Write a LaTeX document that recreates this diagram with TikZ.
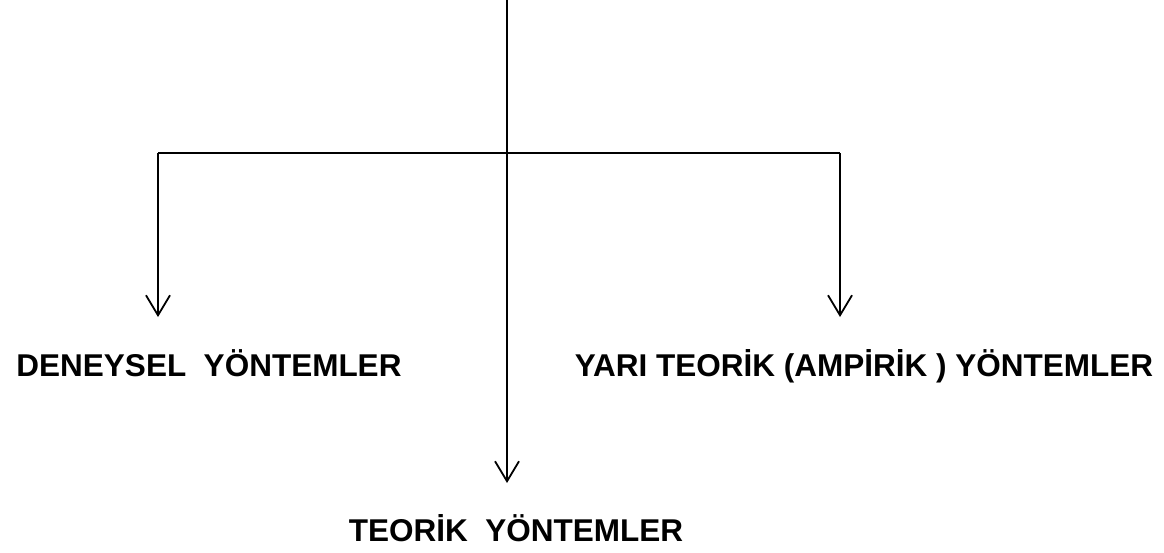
\documentclass[tikz,border=0pt]{standalone}
\usepackage{fontspec}
\setmainfont{Liberation Sans}
\usetikzlibrary{arrows.meta}
\begin{document}
\begin{tikzpicture}[x=1pt,y=-1pt,
  conn/.style={line width=1.8pt, black},
  arr/.style={conn, -{Straight Barb[length=20pt,width=24pt,line width=1.8pt]}},
  lbl/.style={font=\bfseries\fontsize{31.5}{36}\selectfont, anchor=base, inner sep=0pt}]
\useasboundingbox (0,0) rectangle (1164,552);
\coordinate (top) at (507,0);
\coordinate (j) at (507,153);
\coordinate (lc) at (158,153);
\coordinate (rc) at (840,153);
\coordinate (le) at (158,317);
\coordinate (re) at (840,317);
\coordinate (ce) at (507,483);
\node[lbl] (den) at (209,376) {DENEYSEL\ \ YÖNTEMLER};
\node[lbl] (yari) at (864,376) {YARI TEORİK (AMPİRİK ) YÖNTEMLER};
\node[lbl] (teo) at (516,541) {TEORİK\ \ YÖNTEMLER};
\draw[conn] (top) -- (j);
\draw[conn] (lc) -- (rc);
\draw[arr] (lc) -- (le);
\draw[arr] (rc) -- (re);
\draw[arr] (j) -- (ce);
\end{tikzpicture}
\end{document}
